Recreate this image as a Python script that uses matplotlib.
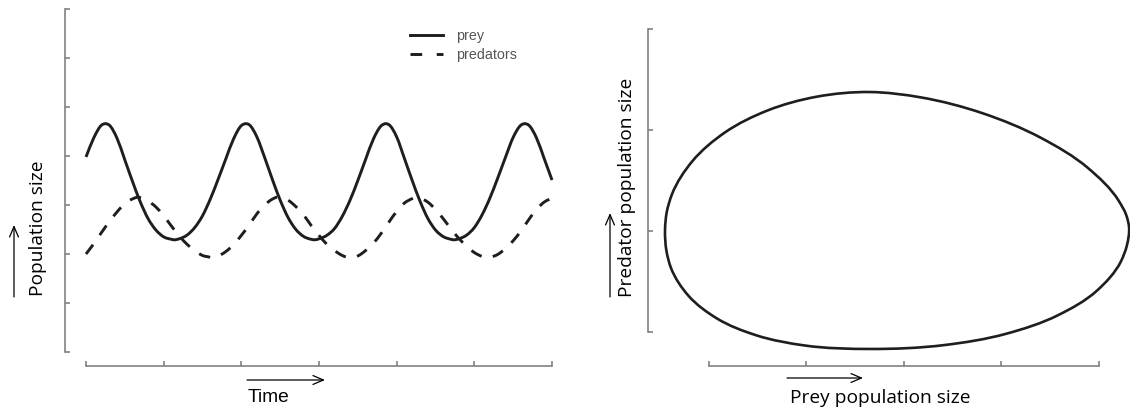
import numpy as np
import matplotlib
matplotlib.use("Agg")
import matplotlib.pyplot as plt
from matplotlib.path import Path
from matplotlib.patches import PathPatch, FancyArrowPatch
from matplotlib.lines import Line2D

# ---------------- data ----------------
# left panel: population size over time (arbitrary units)
prey_time = [0, 1, 2, 2.5, 3, 4, 5, 6, 7, 8, 9, 10, 11, 11.3, 12, 13, 14, 15, 16, 17, 18, 19, 20,
             20.6, 21, 22, 23, 24, 25, 26, 27, 28, 29, 29.4, 30, 31, 32, 33, 34, 35, 36, 37, 38,
             38.6, 39, 40, 41, 42, 43, 44, 45, 46, 47, 47.3, 48, 49, 50, 51, 52, 53, 54, 55, 56,
             56.5, 57, 58, 59, 60]
prey = [3.98, 4.37, 4.63, 4.66, 4.63, 4.36, 3.92, 3.475, 3.06, 2.72, 2.49, 2.35, 2.30, 2.29,
        2.31, 2.385, 2.54, 2.78, 3.12, 3.52, 3.94, 4.35, 4.62,
        4.66, 4.64, 4.39, 3.97, 3.52, 3.10, 2.75, 2.505, 2.36, 2.30, 2.29, 2.31, 2.38, 2.52,
        2.77, 3.10, 3.50, 3.93, 4.345, 4.615,
        4.66, 4.64, 4.39, 3.95, 3.50, 3.08, 2.73, 2.49, 2.355, 2.30, 2.29, 2.31, 2.385, 2.54,
        2.80, 3.14, 3.545, 3.97, 4.38, 4.63,
        4.66, 4.63, 4.37, 3.945, 3.51]

pred_time = [0, 1, 2, 3, 4, 5, 6, 6.7, 7, 8, 9, 10, 11, 12, 13, 14, 15, 16, 16.15, 17, 18, 19,
             20, 21, 22, 23, 24, 24.85, 25, 26, 27, 28, 29, 30, 31, 32, 33, 34, 34.1, 35, 36,
             37, 38, 39, 40, 41, 42, 42.5, 43, 44, 45, 46, 47, 48, 49, 50, 51, 51.8, 52, 53,
             54, 55, 56, 57, 58, 59, 60]
predators = [2.00, 2.21, 2.44, 2.66, 2.86, 3.03, 3.125, 3.16, 3.15, 3.08, 2.96, 2.78, 2.57, 2.37,
             2.20, 2.07, 1.97, 1.93, 1.92, 1.955, 2.05, 2.19,
             2.38, 2.59, 2.82, 3.00, 3.12, 3.16, 3.15, 3.10, 2.97, 2.80, 2.58, 2.38, 2.20, 2.07,
             1.97, 1.92, 1.92, 1.96, 2.07,
             2.22, 2.42, 2.65, 2.87, 3.04, 3.13, 3.16, 3.14, 3.06, 2.91, 2.72, 2.51, 2.32, 2.16,
             2.03, 1.95, 1.92, 1.93, 1.99,
             2.11, 2.27, 2.47, 2.70, 2.91, 3.06, 3.14]

time_ticks = [0, 10, 20, 30, 40, 50, 60]
pop_ticks = [0, 1, 2, 3, 4, 5, 6, 7]

# right panel: phase-plane cycle (prey size, predator size)
cycle_prey = [-0.451, -0.433, -0.380, -0.169, 0.164, 0.600, 1.107, 1.651, 2.177, 2.809, 3.405,
              3.888, 4.199, 4.280, 4.308, 4.286, 4.223, 3.975, 3.575, 3.046, 2.408, 1.651,
              0.985, 0.486, 0.085, -0.209, -0.391, -0.436]
cycle_pred = [1.010, 1.188, 1.363, 1.693, 1.976, 2.193, 2.330, 2.376, 2.322, 2.165, 1.922,
              1.623, 1.304, 1.156, 1.040, 0.857, 0.695, 0.406, 0.164, -0.018, -0.130, -0.168,
              -0.134, -0.033, 0.132, 0.357, 0.637, 0.801]
prey_ticks = [0, 1, 2, 3, 4]
pred_ticks = [0, 1, 2, 3]

series_labels = ["prey", "predators"]


# ---------------- helpers: smooth curves through the read points ----------------
def hermite_path(x, y):
    x = np.asarray(x, float)
    y = np.asarray(y, float)
    h = np.diff(x)
    d = np.diff(y) / h
    m = np.empty_like(y)
    m[0], m[-1] = d[0], d[-1]
    m[1:-1] = (d[:-1] * h[1:] + d[1:] * h[:-1]) / (h[:-1] + h[1:])
    verts = [(x[0], y[0])]
    codes = [Path.MOVETO]
    for i in range(len(h)):
        verts += [(x[i] + h[i] / 3, y[i] + m[i] * h[i] / 3),
                  (x[i + 1] - h[i] / 3, y[i + 1] - m[i + 1] * h[i] / 3),
                  (x[i + 1], y[i + 1])]
        codes += [Path.CURVE4] * 3
    return Path(verts, codes)


def closed_chord_path(x, y, scale=(97.5, 101.0)):
    """Closed smooth curve through the points (chord-length Bessel tangents)."""
    S = np.asarray(scale, float)
    Q = np.column_stack([x, y]).astype(float) * S
    n = len(Q)
    seg = np.roll(Q, -1, axis=0) - Q
    L = np.linalg.norm(seg, axis=1)
    D = seg / L[:, None]
    Lp, Dp = np.roll(L, 1), np.roll(D, 1, axis=0)
    T = (Dp * L[:, None] + D * Lp[:, None]) / (L + Lp)[:, None]
    verts = [tuple(Q[0] / S)]
    codes = [Path.MOVETO]
    for i in range(n):
        j = (i + 1) % n
        c1 = Q[i] + T[i] * L[i] / 3
        c2 = Q[j] - T[j] * L[i] / 3
        verts += [tuple(c1 / S), tuple(c2 / S), tuple(Q[j] / S)]
        codes += [Path.CURVE4] * 3
    return Path(verts, codes)


# ---------------- figure ----------------
W, H = 1130, 412
fig = plt.figure(figsize=(W / 100, H / 100), dpi=100)
fig.patch.set_facecolor("white")

SPINE = "#777777"
INK = "#1e1e1e"
LABEL_FONT = ["Open Sans", "DejaVu Sans"]


def px_axes(left, top, right, bottom):
    return fig.add_axes([left / W, 1 - bottom / H, (right - left) / W, (bottom - top) / H])


def style(ax, xb, yb, xt, yt):
    for s in ("top", "right"):
        ax.spines[s].set_visible(False)
    for s in ("left", "bottom"):
        ax.spines[s].set_color(SPINE)
        ax.spines[s].set_linewidth(1.1)
    ax.spines["bottom"].set_bounds(*xb)
    ax.spines["left"].set_bounds(*yb)
    ax.set_xticks(xt)
    ax.set_yticks(yt)
    ax.tick_params(direction="in", length=3.8, width=1.1, color=SPINE,
                   labelleft=False, labelbottom=False)
    ax.patch.set_visible(False)


# left panel
ax1 = px_axes(65, 5, 560, 366)
ax1.set_xlim(-2.704, 61.03)
ax1.set_ylim(-0.2857, 7.082)
style(ax1, (0, 60), (0, 7), time_ticks, pop_ticks)

ax1.add_patch(PathPatch(hermite_path(prey_time, prey), fill=False, edgecolor=INK,
                        lw=2.1, capstyle="butt", joinstyle="round"))
ax1.add_patch(PathPatch(hermite_path(pred_time, predators), fill=False, edgecolor=INK,
                        lw=2.1, linestyle=(0, (4, 4)), capstyle="butt", joinstyle="round"))

handles = [Line2D([], [], color=INK, lw=2.1),
           Line2D([], [], color=INK, lw=2.1, linestyle=(0, (4, 5)), dash_capstyle="butt")]
leg = ax1.legend(handles, series_labels, loc="upper left",
                 bbox_to_anchor=(410 / W, 1 - 29 / H), bbox_transform=fig.transFigure,
                 frameon=False, borderpad=0, borderaxespad=0, handlelength=2.3,
                 handletextpad=0.9, labelspacing=0.35,
                 prop={"family": ["Liberation Sans", "DejaVu Sans"], "size": 10.3})
for t in leg.get_texts():
    t.set_color("#555555")

# right panel
ax2 = px_axes(648, 20, 1130, 366)
ax2.set_xlim(-0.6256, 4.318)
ax2.set_ylim(-0.3366, 3.089)
style(ax2, (0, 4), (0, 3), prey_ticks, pred_ticks)
ax2.add_patch(PathPatch(closed_chord_path(cycle_prey, cycle_pred), fill=False, edgecolor=INK,
                        lw=1.9, joinstyle="round", clip_on=False))

# axis titles
fig.text(38 / W, 1 - 228 / H, "Population size", rotation=90, ha="center", va="center",
         family=LABEL_FONT, fontsize=13.8, color="black")
fig.text(269 / W, 1 - 398 / H, "Time", ha="center", va="center",
         family=["Liberation Sans", "DejaVu Sans"], fontsize=13.8, color="black")
fig.text(627 / W, 1 - 187 / H, "Predator population size", rotation=90, ha="center",
         va="center", family=LABEL_FONT, fontsize=13.8, color="black")
fig.text(880 / W, 1 - 398 / H, "Prey population size", ha="center", va="center",
         family=LABEL_FONT, fontsize=13.8, color="black")

# direction arrows
arrow_kw = dict(arrowstyle="->,head_length=0.75,head_width=0.32", lw=0.9, color="black",
                shrinkA=0, shrinkB=0, mutation_scale=10)
for start, end in [((14, H - 297), (14, H - 225)),
                   ((247, H - 380), (325, H - 380)),
                   ((610, H - 297), (610, H - 213)),
                   ((787, H - 378), (863, H - 378))]:
    fig.add_artist(FancyArrowPatch(start, end, transform=None, **arrow_kw))

fig.savefig("out.png", dpi=100, facecolor="white")
